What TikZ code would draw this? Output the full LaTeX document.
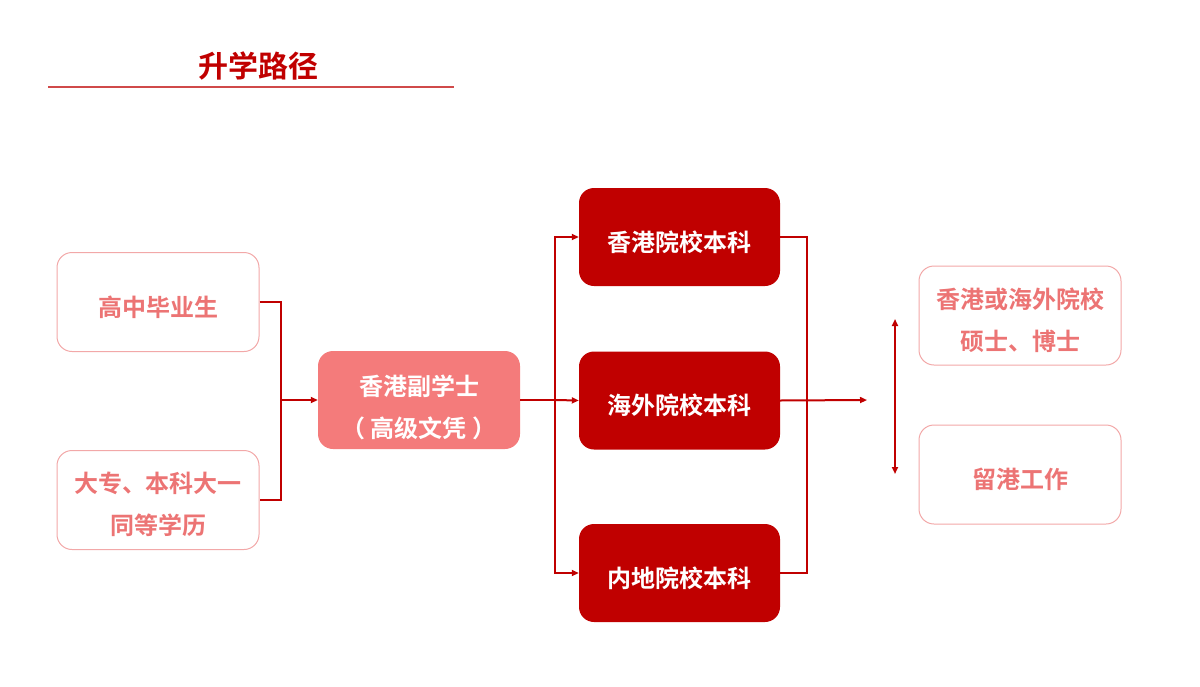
\documentclass[tikz,border=0pt]{standalone}
\usepackage{fontspec}
\setmainfont{Noto Sans CJK SC}[BoldFont={* Bold}]
\newfontfamily\cjkb{Noto Sans CJK SC Bold}
\usetikzlibrary{arrows.meta}
\definecolor{darkred}{HTML}{C00000}
\definecolor{salmon}{HTML}{F47B7B}
\definecolor{pinktext}{HTML}{EC7474}
\definecolor{pinkline}{HTML}{F2A8A8}
\definecolor{titleline}{HTML}{D04A4A}
\tikzset{
  outbox/.style={draw=pinkline, line width=1pt, rounded corners=15pt, minimum width=202pt, minimum height=99pt, inner sep=0pt},
  redbox/.style={fill=darkred, rounded corners=15pt, minimum width=201pt, minimum height=98pt, inner sep=0pt},
  midbox/.style={fill=salmon, rounded corners=15pt, minimum width=202pt, minimum height=98pt, inner sep=0pt},
  pinktxt/.style={text=pinktext, font=\cjkb\fontsize{24}{42}\selectfont, align=center, inner sep=0pt},
  whitetxt/.style={text=white, font=\cjkb\fontsize{24}{42}\selectfont, align=center, inner sep=0pt},
  conn/.style={draw=darkred, line width=2pt},
  arr/.style={conn, -{Triangle[length=7pt,width=6pt]}},
  darr/.style={conn, {Triangle[length=7pt,width=6pt]}-{Triangle[length=7pt,width=6pt]}},
}
\begin{document}
\begin{tikzpicture}[x=1pt,y=-1pt]
\useasboundingbox (0,0) rectangle (1200,686);
% title
\node[text=darkred, font=\cjkb\fontsize{30}{34}\selectfont, inner sep=0pt] (title) at (258,66) {升学路径};
\coordinate (tl) at (48,87);
\coordinate (tr) at (454,87);
\draw[titleline, line width=1.3pt] (tl) -- (tr);
% left boxes
\node[outbox] (hs) at (158,302) {};
\node[pinktxt] (hst) at ([yshift=-5pt]hs.center) {高中毕业生};
\node[outbox] (dz) at (158,500) {};
\node[pinktxt] (dzt) at ([yshift=-4pt]dz.center) {大专、本科大一\\同等学历};
% middle
\node[midbox] (fx) at (419,400) {};
\node[whitetxt] (fxt) at ([yshift=-7pt]fx.center) {香港副学士\\（ 高级文凭 ）};
% red boxes
\node[redbox] (hk) at (679.5,237) {};
\node[whitetxt] (hkt) at ([yshift=-5pt]hk.center) {香港院校本科};
\node[redbox] (os) at (679.5,400.5) {};
\node[whitetxt] (ost) at ([yshift=-5pt]os.center) {海外院校本科};
\node[redbox] (nd) at (679.5,573) {};
\node[whitetxt] (ndt) at ([yshift=-5pt]nd.center) {内地院校本科};
% right boxes
\node[outbox] (ms) at (1020,315.5) {};
\node[pinktxt] (mst) at ([yshift=-5pt]ms.center) {香港或海外院校\\硕士、博士};
\node[outbox] (wk) at (1020,474.5) {};
\node[pinktxt] (wkt) at ([yshift=-5pt]wk.center) {留港工作};
% left connector
\coordinate (jl) at (281,400);
\draw[conn] (hs.east) -| (jl) |- (dz.east);
\draw[arr] (jl) -- (fx.west);
% middle fan-out
\coordinate (jm) at (555,400);
\draw[conn] (fx.east) -- (jm);
\draw[arr] (jm) -- (os.west);
\draw[arr] (jm) |- (hk.west);
\draw[arr] (jm) |- (nd.west);
% right fan-in
\coordinate (jr) at (807,400);
\coordinate (ae) at (867,400);
\draw[conn] (hk.east) -| (jr) |- (nd.east);
\draw[arr] (os.east) -- (ae);
% double arrow
\coordinate (dt) at (895,319);
\coordinate (db) at (895,474);
\draw[darr] (dt) -- (db);
\end{tikzpicture}
\end{document}
